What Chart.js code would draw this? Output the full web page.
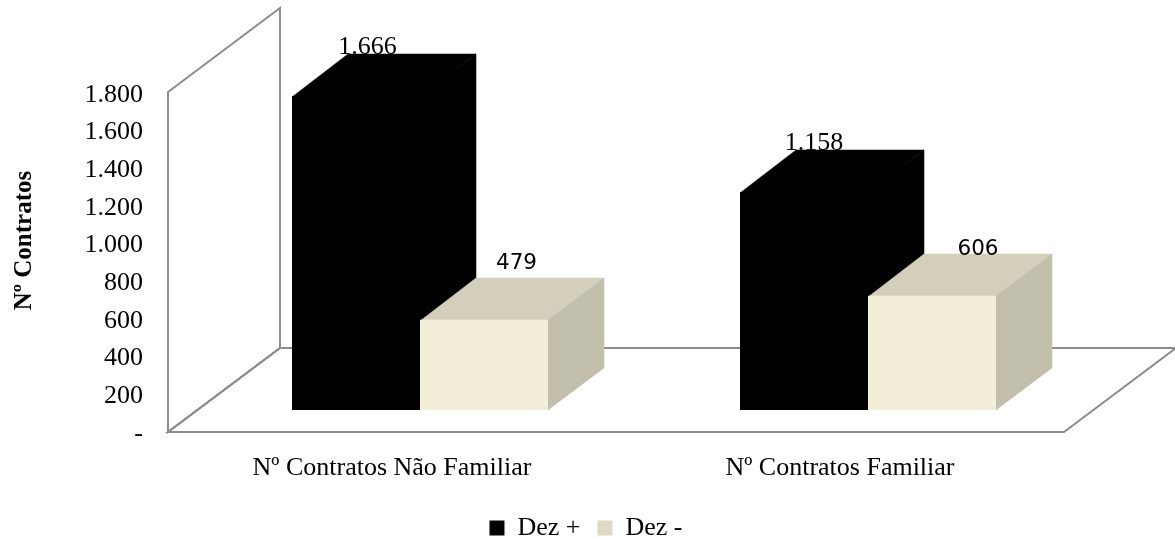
<!DOCTYPE html>
<html lang="pt">
<head>
    <meta charset="UTF-8">
    <title>Nº Contratos</title>
    <script src="https://cdn.jsdelivr.net/npm/chart.js"></script>
    <style>
        html, body { margin: 0; padding: 0; background: #fff; }
        canvas { display: block; }
    </style>
</head>
<body>
    <canvas id="contratosChart" width="1175" height="539"></canvas>

    <script>
        const categories = ['Nº Contratos Não Familiar', 'Nº Contratos Familiar'];
        const seriesNames = ['Dez +', 'Dez -'];
        const dezMais = [1666, 1158];
        const dezMenos = [479, 606];
        const yTicks = [0, 200, 400, 600, 800, 1000, 1200, 1400, 1600, 1800];

        const SERIF = '"Liberation Serif", serif';

        // bar depth in pixels (the walls are twice as deep)
        const DX = 56, DY = 42;

        const faces = [
            { front: '#000000', top: '#000000', side: '#000000', legend: '#000000' },
            { front: '#f3eed9', top: '#d3cfbb', side: '#c2bfad', legend: '#ddd9c3' }
        ];

        // labels were moved by hand in the original
        const labelNudge = [
            [{ x: 11.5, y: -7 }, { x: 10, y: -7 }],
            [{ x: 32.5, y: -56 }, { x: 46, y: -46 }]
        ];

        function groupSep(v) {
            return String(v).replace(/\B(?=(\d{3})+$)/g, '.');
        }

        function poly(ctx, pts, fill, stroke, width) {
            ctx.beginPath();
            pts.forEach((p, i) => i ? ctx.lineTo(p[0], p[1]) : ctx.moveTo(p[0], p[1]));
            ctx.closePath();
            if (fill) { ctx.fillStyle = fill; ctx.fill(); }
            if (stroke) { ctx.strokeStyle = stroke; ctx.lineWidth = width; ctx.stroke(); }
        }

        function drawLabel(ctx, text, x, y, font) {
            ctx.font = font;
            ctx.fillStyle = '#000';
            ctx.textAlign = 'center';
            ctx.textBaseline = 'middle';
            ctx.fillText(text, x, y);
        }

        const box3d = {
            id: 'box3d',
            afterLayout(chart) {
                // legend is centred on the whole picture, not on the padded area
                chart.legend.left += 40;
                chart.legend.right += 40;
            },
            beforeDatasetsDraw(chart) {
                const ctx = chart.ctx;
                const a = chart.chartArea;
                const yScale = chart.scales.y;

                // walls and floor
                const wallTop = yScale.getPixelForValue(1800) + 21;
                const left = a.left - 28, right = a.right - 28, bottom = a.bottom + 22;
                const grey = '#8c8c8c';
                ctx.save();
                ctx.lineJoin = 'miter';
                poly(ctx, [[left, wallTop], [left + 2 * DX, wallTop - 2 * DY], [left + 2 * DX, bottom - 2 * DY], [left, bottom]], null, grey, 2);
                poly(ctx, [[left, bottom], [right, bottom], [right + 2 * DX, bottom - 2 * DY], [left + 2 * DX, bottom - 2 * DY]], null, grey, 2);

                // black labels sit behind the top face
                const black = chart.getDatasetMeta(0).data;
                black.forEach((bar, i) => {
                    const n = labelNudge[0][i];
                    drawLabel(ctx, groupSep(dezMais[i]), bar.x + n.x, bar.y - DY + n.y, '26px ' + SERIF);
                });

                [0, 1].forEach(d => {
                    chart.getDatasetMeta(d).data.forEach(bar => {
                        const l = bar.x - bar.width / 2, r = bar.x + bar.width / 2;
                        const t = Math.round(bar.y), b = Math.round(bar.base);
                        poly(ctx, [[l, t + 1], [r, t + 1], [r + DX, t - DY], [l + DX, t - DY]], faces[d].top, faces[d].top, 0.5);
                        poly(ctx, [[r, t], [r + DX, t - DY], [r + DX, b - DY], [r, b]], faces[d].side, faces[d].side, 0.5);
                    });
                });

                ctx.restore();
            },
            afterDatasetsDraw(chart) {
                const ctx = chart.ctx;
                ctx.save();
                chart.getDatasetMeta(1).data.forEach((bar, i) => {
                    const n = labelNudge[1][i];
                    drawLabel(ctx, String(dezMenos[i]), bar.x + n.x, bar.y + n.y, '21.5px "DejaVu Sans", sans-serif');
                });
                ctx.restore();
            }
        };

        new Chart(document.getElementById('contratosChart'), {
            type: 'bar',
            data: {
                labels: categories,
                datasets: [
                    { label: seriesNames[0], data: dezMais, backgroundColor: faces[0].front },
                    { label: seriesNames[1], data: dezMenos, backgroundColor: faces[1].front }
                ]
            },
            options: {
                responsive: false,
                animation: false,
                layout: { padding: { top: 71, right: 83, bottom: -12, left: 0 } },
                datasets: { bar: { categoryPercentage: 0.5714, barPercentage: 1 } },
                scales: {
                    x: {
                        afterFit(axis) { axis.height = 88; },
                        grid: { display: false },
                        border: { display: false },
                        ticks: {
                            color: '#000',
                            font: { family: SERIF, size: 26 },
                            labelOffset: -28,
                            padding: 35,
                            maxRotation: 0
                        }
                    },
                    y: {
                        min: 0,
                        max: 1800,
                        afterBuildTicks(axis) {
                            axis.ticks = yTicks.map(v => ({ value: v }));
                        },
                        afterFit(axis) { axis.width = 196; },
                        grid: { display: false },
                        border: { display: false },
                        title: {
                            display: true,
                            text: 'Nº Contratos',
                            color: '#000',
                            font: { family: SERIF, size: 25, weight: 'bold' },
                            padding: { top: 10, bottom: 0 }
                        },
                        ticks: {
                            color: '#000',
                            font: { family: SERIF, size: 26 },
                            labelOffset: 24,
                            padding: 45,
                            callback: v => v === 0 ? '-' : groupSep(v)
                        }
                    }
                },
                plugins: {
                    legend: {
                        position: 'bottom',
                        labels: {
                            color: '#000',
                            font: { family: SERIF, size: 26 },
                            boxWidth: 15,
                            boxHeight: 15,
                            padding: 17,
                            generateLabels(chart) {
                                return chart.data.datasets.map((ds, i) => ({
                                    text: ds.label,
                                    fillStyle: faces[i].legend,
                                    strokeStyle: faces[i].legend,
                                    lineWidth: 0,
                                    datasetIndex: i,
                                    fontColor: '#000'
                                }));
                            }
                        }
                    },
                    tooltip: { enabled: false }
                }
            },
            plugins: [box3d]
        });
    </script>
</body>
</html>
